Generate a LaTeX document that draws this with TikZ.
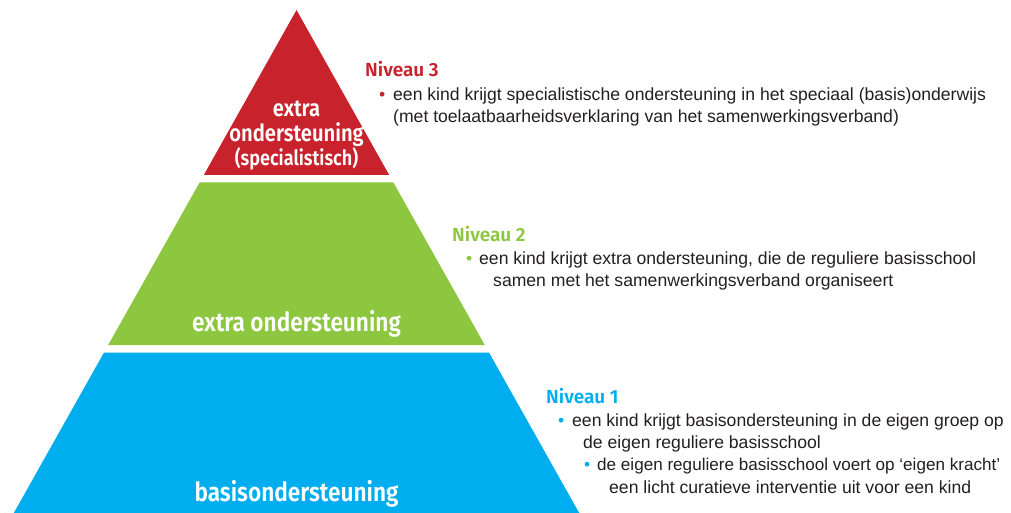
\documentclass[tikz,border=0pt]{standalone}
\usepackage{fontspec}
\setmainfont{Liberation Sans}
\newfontfamily\headfont{Fira Sans}[BoldFont={* SemiBold},FakeStretch=0.86]
\newfontfamily\levelfont{Fira Sans}[BoldFont={* SemiBold}]
\definecolor{pyrred}{HTML}{C8232C}
\definecolor{pyrgreen}{HTML}{8DC63F}
\definecolor{pyrblue}{HTML}{00AEEF}
\definecolor{bodytext}{HTML}{231F20}
\begin{document}
\begin{tikzpicture}[x=1pt,y=-1pt,
  lab/.style={text=white,inner sep=0pt,anchor=base,font=\headfont\bfseries\fontsize{23.5}{26}\selectfont},
  labsmall/.style={lab,font=\headfont\bfseries\fontsize{21}{24}\selectfont},
  labbig/.style={lab,font=\headfont\bfseries\fontsize{26.3}{28}\selectfont},
  head/.style={anchor=base west,inner sep=0pt,font=\levelfont\bfseries\fontsize{19}{21}\selectfont},
  body/.style={anchor=base west,inner sep=0pt,text=bodytext,font=\fontsize{17.6}{22}\selectfont},
  bodytight/.style={body,font=\fontsize{17.1}{22}\selectfont},
  bul/.style={anchor=base west,inner sep=0pt,font=\fontsize{17.6}{22}\selectfont}]
\useasboundingbox (0,0) rectangle (1011,513);
% pyramid levels
\fill[pyrred] (296.5,10) -- (389.2,175) -- (203.8,175) -- cycle;
\fill[pyrgreen] (199.6,182.5) -- (393.4,182.5) -- (484.8,345) -- (108.2,345) -- cycle;
\fill[pyrblue] (104,352.5) -- (489,352.5) -- (579.2,513) -- (13.8,513) -- cycle;
% pyramid labels
\node[lab] (l3a) at (296.5,117) {extra};
\node[lab] (l3b) at (296.5,142) {ondersteuning};
\node[labsmall] (l3c) at (296.5,166) {(specialistisch)};
\node[labbig] (l2) at (296.5,331) {extra ondersteuning};
\node[labbig] (l1) at (296.5,501) {basisondersteuning};
% Niveau 3
\node[head,text=pyrred] (n3) at (365,77) {Niveau 3};
\node[bul,text=pyrred] (n3b) at (379,101) {•};
\node[body] (n3t1) at (393,101) {een kind krijgt specialistische ondersteuning in het speciaal (basis)onderwijs};
\node[body] (n3t2) at (393,123) {(met toelaatbaarheidsverklaring van het samenwerkingsverband)};
% Niveau 2
\node[head,text=pyrgreen] (n2) at (452,241) {Niveau 2};
\node[bul,text=pyrgreen] (n2b) at (466,264) {•};
\node[body] (n2t1) at (479,264) {een kind krijgt extra ondersteuning, die de reguliere basisschool};
\node[body] (n2t2) at (493,286) {samen met het samenwerkingsverband organiseert};
% Niveau 1
\node[head,text=pyrblue] (n1) at (546,403) {Niveau 1};
\node[bul,text=pyrblue] (n1b) at (558,426) {•};
\node[body] (n1t1) at (572,426) {een kind krijgt basisondersteuning in de eigen groep op};
\node[body] (n1t2) at (583,448) {de eigen reguliere basisschool};
\node[bul,text=pyrblue] (n1c) at (584,470) {•};
\node[bodytight] (n1t3) at (597,470) {de eigen reguliere basisschool voert op ‘eigen kracht’};
\node[body] (n1t4) at (609,493) {een licht curatieve interventie uit voor een kind};
\end{tikzpicture}
\end{document}
